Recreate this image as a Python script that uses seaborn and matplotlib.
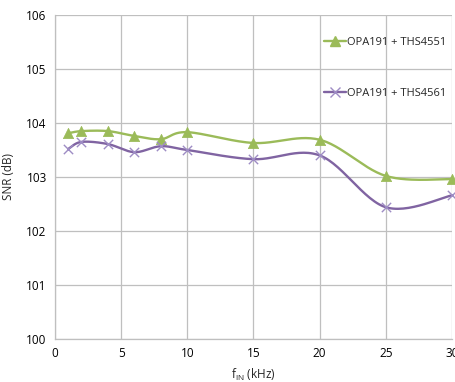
import numpy as np
import pandas as pd
import matplotlib
matplotlib.use("Agg")
import matplotlib.pyplot as plt
import seaborn as sns
from matplotlib.lines import Line2D

freq_khz = [1, 2, 4, 6, 8, 10, 15, 20, 25, 30]
snr_4551 = [103.81, 103.85, 103.85, 103.76, 103.70, 103.83, 103.63, 103.69, 103.02, 102.96]
snr_4561 = [103.52, 103.65, 103.61, 103.46, 103.57, 103.50, 103.33, 103.40, 102.44, 102.66]
series_names = ["OPA191 + THS4551", "OPA191 + THS4561"]
x_ticks = [0, 5, 10, 15, 20, 25, 30]
y_ticks = [100, 101, 102, 103, 104, 105, 106]

green = "#9BBB59"
purple = "#8064A2"

sns.set_theme(style="white")
plt.rcParams['font.family'] = ['Open Sans', 'DejaVu Sans']

fig = plt.figure(figsize=(4.56, 3.82), dpi=100)
ax = fig.add_axes([55/456, 43/382, 397/456, 324/382])
ax.set_xlim(0, 30)
ax.set_ylim(100, 106)


def smooth(ax, xs, ys, n=30):
    pts = ax.transData.transform(np.column_stack([xs, ys]))
    P = np.vstack([pts[0], pts, pts[-1]])
    out = []
    for i in range(1, len(P) - 2):
        p0, p3 = P[i], P[i + 1]
        c1 = p0 + (P[i + 1] - P[i - 1]) / 6
        c2 = p3 - (P[i + 2] - P[i]) / 6
        t = np.linspace(0, 1, n)[:, None]
        seg = (1 - t) ** 3 * p0 + 3 * (1 - t) ** 2 * t * c1 + 3 * (1 - t) * t ** 2 * c2 + t ** 3 * p3
        out.append(seg)
    out = np.vstack(out)
    d = ax.transData.inverted().transform(out)
    return d[:, 0], d[:, 1]


df = pd.DataFrame({"f": freq_khz * 2,
                   "snr": snr_4551 + snr_4561,
                   "s": [series_names[0]] * len(freq_khz) + [series_names[1]] * len(freq_khz)})

for name, col, mk, ms, mcol in [(series_names[0], green, "^", 55, green),
                                (series_names[1], purple, "x", 45, "#9E8CC4")]:
    sub = df[df.s == name]
    sx, sy = smooth(ax, sub.f.values, sub.snr.values)
    ax.plot(sx, sy, color=col, lw=1.7, zorder=3, clip_on=False)
    sns.scatterplot(data=sub, x="f", y="snr", marker=mk, s=ms, color=mcol,
                    edgecolor=mcol if mk == "^" else None, linewidth=1.0 if mk == "x" else 0.5,
                    ax=ax, zorder=4, clip_on=False, legend=False)

ax.set_xticks(x_ticks)
ax.set_yticks(y_ticks)
ax.grid(True, color="#BFBFBF", lw=0.9)
for s in ["top", "right"]:
    ax.spines[s].set_visible(False)
for s in ["left", "bottom"]:
    ax.spines[s].set_color("#BFBFBF")
    ax.spines[s].set_linewidth(0.9)
ax.tick_params(axis="both", labelsize=8.5, colors="black", length=0, pad=6)
ax.set_xlabel("f$_{\\mathregular{IN}}$ (kHz)", fontsize=8.5, labelpad=5)
ax.set_ylabel("SNR (dB)", fontsize=8.5, labelpad=8)

handles = [Line2D([], [], color=green, lw=1.7, marker="^", ms=7, markeredgecolor=green),
           Line2D([], [], color=purple, lw=1.7, marker="x", ms=7, markeredgecolor="#9E8CC4")]
leg = ax.legend(handles, series_names, loc="upper left", bbox_to_anchor=(265/397, 0.945),
                frameon=False, fontsize=8, labelspacing=3.6, handlelength=1.9,
                handletextpad=0.1, borderaxespad=0)

fig.savefig("out.png", dpi=100)
